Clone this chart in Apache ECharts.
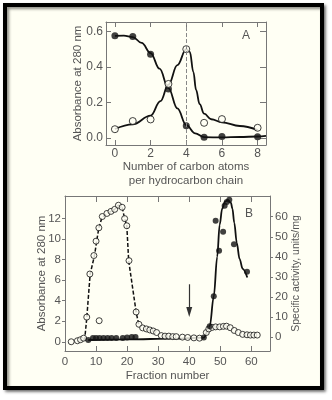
<!DOCTYPE html>
<html><head><meta charset="utf-8">
<script src="https://cdn.jsdelivr.net/npm/echarts@6/dist/echarts.min.js"></script>
<style>html,body{margin:0;padding:0;background:#fff}#c{width:332px;height:400px}</style>
</head><body><div id="c"></div>
<script>
// ---- Panel A data ----
const carbonAtoms = [0, 1, 2, 3, 4, 5, 6, 8];
const absFilledA = [0.575, 0.572, 0.472, 0.276, 0.068, 0.003, 0.008, 0.006];
const absOpenA = [0.049, 0.095, 0.104, 0.304, 0.5, 0.085, 0.106, 0.057];
// fitted curves
const curveFilledAx = [0, 0.5, 1, 1.5, 2, 2.5, 3, 3.5, 4, 4.5, 5, 6, 7, 8, 8.47];
const curveFilledAy = [0.575, 0.576, 0.568, 0.535, 0.478, 0.39, 0.28, 0.166, 0.072, 0.026, 0.004, 0.003, 0.005, 0.008, 0.012];
const curveOpenAx = [0, 1, 2, 2.55, 3, 3.5, 4, 4.2, 4.4, 4.55, 4.75, 5, 5.4, 6, 7, 8];
const curveOpenAy = [0.05, 0.076, 0.125, 0.207, 0.3, 0.41, 0.5, 0.485, 0.37, 0.27, 0.19, 0.137, 0.105, 0.088, 0.067, 0.044];
const ticksAx = [0, 2, 4, 6, 8];
const ticksAy = [0, 0.2, 0.4, 0.6];

// ---- Panel B data ----
const fractionOpen = [2, 4, 5, 6, 7, 8, 9.3, 10, 10.9, 11, 12, 13.5, 14.8, 16, 17.2, 18.4, 19.2, 19.9, 20.6, 22.9, 23.8, 25, 26.2, 27.3, 28.4, 29.5, 31, 32.2, 33.4, 34.7, 35.8, 37.8, 39.5, 41.5, 43.3, 45.5, 46.3, 47.4, 48.5, 49.8, 51, 52, 53.2, 54.5, 55.8, 57.2, 58.6, 59.7, 60.8, 61.9];
const absorbanceB = [0, 0.1, 0.2, 0.35, 2.4, 6.6, 8.4, 9.8, 11.1, 2.05, 12.2, 12.5, 12.7, 12.9, 13.3, 13.1, 12.0, 11.3, 7.9, 2.9, 1.7, 1.35, 1.25, 1.15, 1.05, 0.9, 0.6, 0.55, 0.55, 0.5, 0.5, 0.45, 0.42, 0.38, 0.35, 0.9, 1.25, 1.4, 1.45, 1.45, 1.5, 1.52, 1.37, 1.1, 0.9, 0.72, 0.68, 0.65, 0.65, 0.65];
const dashedBx = [6.3, 7, 8.1, 9.5, 10.2, 10.9, 11.9, 13.5, 14.8, 16, 17.2, 18.4, 19.2, 19.9, 20.5, 22.9, 23.8];
const dashedBy = [0.1, 2.3, 6.6, 8.4, 9.8, 11.1, 12.1, 12.5, 12.7, 12.9, 13.3, 13.1, 12.0, 11.3, 7.9, 2.9, 1.6];
const fractionFilled = [7.5, 9, 10, 11.1, 12.4, 13.7, 15, 16.5, 18.6, 20, 21.5, 22.7, 44.7, 46.6, 47.9, 48.5, 49.6, 50.9, 51.4, 52.1, 52.9, 54.4, 58.6];
const activityB = [-1.5, -0.5, -0.5, -0.5, -0.5, -0.5, -0.5, -0.5, -0.5, -0.3, 0, 0, -0.3, 5.4, 20.3, 58, 43, 52.5, 65.5, 67.3, 68.5, 46.3, 32.5];
const solidBx = [7.5, 20, 35, 44.7, 46.6, 47.9, 49, 49.8, 50.6, 51.5, 52.5, 53.4, 53.9, 54.5, 55.3, 56.2, 57.2, 58.7];
const solidBy = [-1.5, -1.2, -0.8, -0.3, 5.4, 20.3, 40, 56, 64, 67.5, 68.3, 67, 64, 57, 47, 39, 34, 29.7];
const ticksBleft = [0, 2, 4, 6, 8, 10, 12];
const ticksBright = [0, 10, 20, 30, 40, 50, 60];
const arrowFrom = [40, 5.6];
const arrowTo = [40, 2.9];

const zip = (a, b) => a.map((v, i) => [v, b[i]]);
const INK = '#111';
const AX = '#777';
const TXT = '#555';
const FONT = 'Liberation Sans, Arial, sans-serif';
const CREAM = '#fffff4';

const axLine = {show: true, onZero: false, lineStyle: {color: AX, width: 1}};

const chart = echarts.init(document.getElementById('c'));
chart.setOption({
  animation: false,
  backgroundColor: '#ffffff',
  textStyle: {fontFamily: FONT},
  graphic: [
    {type: 'rect', z: -10, shape: {x: 5, y: 5, width: 317, height: 383},
     style: {fill: CREAM, stroke: '#000', lineWidth: 4, shadowBlur: 3, shadowOffsetX: 2, shadowOffsetY: 2, shadowColor: 'rgba(0,0,0,0.45)'}},
    {type: 'text', left: 242, top: 30, style: {text: 'A', font: '12px ' + FONT, fill: TXT}},
    {type: 'text', left: 245, top: 208, style: {text: 'B', font: '12px ' + FONT, fill: TXT}}
  ],
  grid: [
    {left: 106, top: 22, width: 160, height: 123},
    {left: 65, top: 196, width: 205, height: 155}
  ],
  xAxis: [
    {type: 'value', gridIndex: 0, min: -0.5, max: 8.47, position: 'bottom', axisLine: axLine,
     splitLine: {show: false},
     axisTick: {inside: true, length: 5, customValues: ticksAx, lineStyle: {color: AX}},
     axisLabel: {customValues: ticksAx, color: TXT, fontSize: 12, margin: 3},
     name: 'Number of carbon atoms\nper hydrocarbon chain', nameLocation: 'middle', nameGap: 15, nameMoveOverlap: false,
     nameTextStyle: {color: TXT, fontSize: 11.5, lineHeight: 14, verticalAlign: 'top'}},
    {type: 'value', gridIndex: 0, min: -0.5, max: 8.47, position: 'top', axisLine: axLine,
     splitLine: {show: false},
     axisTick: {inside: true, length: 5, customValues: ticksAx, lineStyle: {color: AX}},
     axisLabel: {show: false}},
    {type: 'value', gridIndex: 1, min: 0, max: 66, interval: 10, position: 'bottom', axisLine: axLine,
     splitLine: {show: false},
     axisTick: {inside: true, length: 5, lineStyle: {color: AX}},
     axisLabel: {color: TXT, fontSize: 11.5, margin: 5, showMaxLabel: false},
     name: 'Fraction number', nameLocation: 'middle', nameGap: 19, nameMoveOverlap: false,
     nameTextStyle: {color: TXT, fontSize: 11.5, verticalAlign: 'top'}},
    {type: 'value', gridIndex: 1, min: 0, max: 66, interval: 10, position: 'top', axisLine: axLine,
     splitLine: {show: false},
     axisTick: {inside: true, length: 6, lineStyle: {color: AX}},
     axisLabel: {show: false}}
  ],
  yAxis: [
    {type: 'value', gridIndex: 0, min: -0.04, max: 0.653, position: 'left', axisLine: axLine,
     splitLine: {show: false},
     axisTick: {inside: true, length: 5, customValues: ticksAy, lineStyle: {color: AX}},
     axisLabel: {customValues: ticksAy, color: TXT, fontSize: 12, margin: 3, formatter: v => v.toFixed(1)},
     name: 'Absorbance at 280 nm', nameLocation: 'middle', nameRotate: 90, nameGap: 22, nameMoveOverlap: false,
     nameTextStyle: {color: TXT, fontSize: 11.5}},
    {type: 'value', gridIndex: 0, min: -0.04, max: 0.653, position: 'right', axisLine: axLine,
     splitLine: {show: false},
     axisTick: {inside: true, length: 6, customValues: ticksAy, lineStyle: {color: AX}},
     axisLabel: {show: false}},
    {type: 'value', gridIndex: 1, min: -0.9, max: 14.2, position: 'left', axisLine: axLine,
     splitLine: {show: false},
     axisTick: {inside: false, length: 3, customValues: ticksBleft, lineStyle: {color: AX}},
     axisLabel: {customValues: ticksBleft, color: TXT, fontSize: 11.5, margin: 4},
     name: 'Absorbance at 280 nm', nameLocation: 'middle', nameRotate: 90, nameGap: 17, nameMoveOverlap: false,
     nameTextStyle: {color: TXT, fontSize: 11.5}},
    {type: 'value', gridIndex: 1, min: -7, max: 70.35, position: 'right', axisLine: axLine,
     splitLine: {show: false},
     axisTick: {inside: false, length: 3, customValues: ticksBright, lineStyle: {color: AX}},
     axisLabel: {customValues: ticksBright, color: TXT, fontSize: 11.5, margin: 5},
     name: 'Specific activity, units/mg', nameLocation: 'middle', nameRotate: 90, nameGap: 21, nameMoveOverlap: false,
     nameTextStyle: {color: TXT, fontSize: 10.5}}
  ],
  series: [
    {type: 'line', xAxisIndex: 0, yAxisIndex: 0, data: zip(curveFilledAx, curveFilledAy), smooth: 0.4, smoothMonotone: 'x',
     showSymbol: false, lineStyle: {color: INK, width: 1.8}, z: 2},
    {type: 'line', xAxisIndex: 0, yAxisIndex: 0, data: zip(curveOpenAx, curveOpenAy), smooth: 0.4, smoothMonotone: 'x',
     showSymbol: false, lineStyle: {color: INK, width: 1.8}, z: 2,
     markLine: {silent: true, symbol: 'none', label: {show: false},
       lineStyle: {color: '#888', type: [4, 2], width: 1}, data: [{xAxis: 4}]}},
    {type: 'scatter', xAxisIndex: 0, yAxisIndex: 0, data: zip(carbonAtoms, absFilledA), symbol: 'circle', symbolSize: 7,
     itemStyle: {color: INK}, z: 4},
    {type: 'scatter', xAxisIndex: 0, yAxisIndex: 0, data: zip(carbonAtoms, absOpenA), symbol: 'circle', symbolSize: 7,
     itemStyle: {color: CREAM, borderColor: INK, borderWidth: 1}, z: 4},

    {type: 'line', xAxisIndex: 2, yAxisIndex: 3, data: zip(solidBx, solidBy), smooth: 0.35, smoothMonotone: 'x',
     showSymbol: false, lineStyle: {color: INK, width: 1.8}, z: 2},
    {type: 'line', xAxisIndex: 2, yAxisIndex: 2, data: zip(dashedBx, dashedBy),
     showSymbol: false, lineStyle: {color: INK, width: 1.5, type: [4, 2]}, z: 2,
     markLine: {silent: true, symbol: ['none', 'triangle'], symbolSize: [6, 10], label: {show: false},
       lineStyle: {color: '#333', type: 'solid', width: 1.2},
       data: [[{coord: arrowFrom}, {coord: arrowTo}]]}},
    {type: 'scatter', xAxisIndex: 2, yAxisIndex: 2, data: zip(fractionOpen, absorbanceB), symbol: 'circle', symbolSize: 6,
     itemStyle: {color: CREAM, borderColor: INK, borderWidth: 1}, z: 4},
    {type: 'scatter', xAxisIndex: 2, yAxisIndex: 3, data: zip(fractionFilled, activityB), symbol: 'circle', symbolSize: 6,
     itemStyle: {color: INK}, z: 5}
  ]
});
</script></body></html>
